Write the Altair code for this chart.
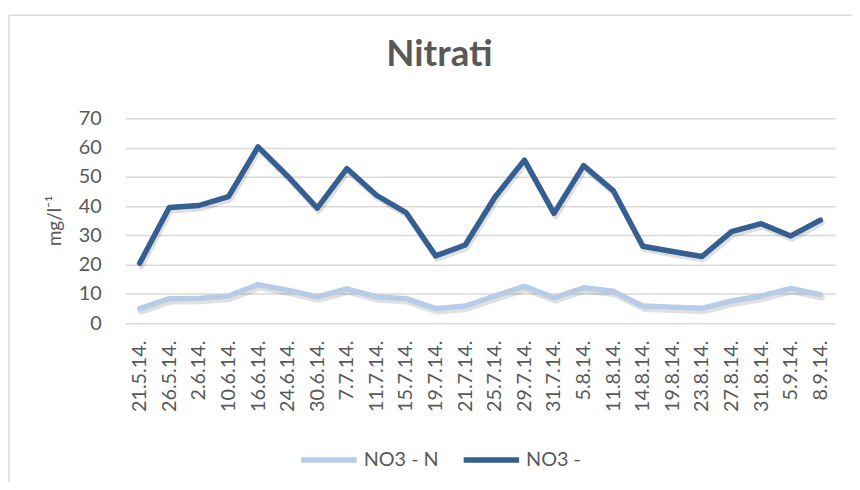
import altair as alt
import pandas as pd

dates = ["21.5.14.", "26.5.14.", "2.6.14.", "10.6.14.", "16.6.14.", "24.6.14.",
         "30.6.14.", "7.7.14.", "11.7.14.", "15.7.14.", "19.7.14.", "21.7.14.",
         "25.7.14.", "29.7.14.", "31.7.14.", "5.8.14.", "11.8.14.", "14.8.14.",
         "19.8.14.", "23.8.14.", "27.8.14.", "31.8.14.", "5.9.14.", "8.9.14."]
no3_n = [5.0, 8.4, 8.5, 9.3, 13.2, 11.3, 9.0, 11.7, 9.0, 8.4, 5.0, 5.9,
         9.3, 12.6, 8.7, 12.1, 10.9, 5.9, 5.5, 5.1, 7.6, 9.3, 11.9, 9.8]
no3 = [20.5, 39.5, 40.2, 43.2, 60.2, 50.2, 39.3, 52.8, 43.7, 37.8, 23.0, 26.7,
       43.0, 55.7, 37.5, 53.8, 45.3, 26.3, 24.5, 22.8, 31.3, 34.0, 29.8, 35.2]
series = ["NO3 - N", "NO3 -"]
colors = ["#B7CCE6", "#355E91"]

df = pd.DataFrame({"date": dates, series[0]: no3_n, series[1]: no3})
long = df.melt(id_vars="date", var_name="serie", value_name="val")

FONT = "Lato"
TXT = "#595959"
GRID = "#D9D9D9"

xenc = alt.X("date:N", sort=dates, scale=alt.Scale(paddingOuter=0.5),
             axis=alt.Axis(title=None, labelAngle=-90, labelFontSize=20, labelColor=TXT,
                           labelFont=FONT, ticks=False, domain=False, labelPadding=17,
                           grid=False))
yenc = alt.Y("val:Q", scale=alt.Scale(domain=[0, 70], nice=False),
             axis=alt.Axis(title="mg/l⁻¹", values=[0, 10, 20, 30, 40, 50, 60, 70],
                           labelFontSize=20, labelColor=TXT, labelFont=FONT,
                           ticks=False, domain=False, labelPadding=24,
                           gridColor=GRID, gridWidth=1.5,
                           titleFont=FONT, titleFontSize=19, titleColor=TXT,
                           titleFontWeight="normal", titleAngle=-90,
                           titleX=-71, titleY=103, titleAlign="center",
                           titleBaseline="middle"))

shadow = alt.Chart(long).mark_line(strokeWidth=6, strokeCap="round", strokeJoin="round",
                                   color="#000000", opacity=0.12, xOffset=1.5, yOffset=3).encode(
    x=xenc, y=yenc, detail="serie:N")

lines = alt.Chart(long).mark_line(strokeWidth=5.5, strokeCap="round", strokeJoin="round").encode(
    x=xenc, y=yenc,
    color=alt.Color("serie:N", sort=series,
                    scale=alt.Scale(domain=series, range=colors),
                    legend=alt.Legend(title=None, orient="none", direction="horizontal",
                                      legendX=175, legendY=314, symbolType="stroke",
                                      symbolSize=3136, symbolStrokeWidth=5.5,
                                      labelFontSize=20, labelColor=TXT, labelFont=FONT,
                                      columnPadding=14, labelOffset=4)),
)

border = alt.Chart(pd.DataFrame({"a": [0]})).mark_rule(color=GRID, strokeWidth=1.5).encode(
    x=alt.value(-117), y=alt.value(-104), y2=alt.value(370))
border_top = alt.Chart(pd.DataFrame({"a": [0]})).mark_rule(color=GRID, strokeWidth=1.5).encode(
    x=alt.value(-117), x2=alt.value(740), y=alt.value(-104))

chart = alt.layer(border, border_top, shadow, lines).properties(
    width=717, height=207,
    padding={"left": 118, "top": 109, "right": 17, "bottom": 158},
    autosize=alt.AutoSizeParams(type="none"),
    title=alt.TitleParams("Nitrati", font=FONT, fontSize=37, fontWeight="bold",
                          color=TXT, anchor="middle", frame="group", dx=-41,
                          offset=0, baseline="alphabetic", dy=89),
).configure_view(stroke=None)

chart.save("out.html", embed_options={"renderer": "svg", "actions": False})
